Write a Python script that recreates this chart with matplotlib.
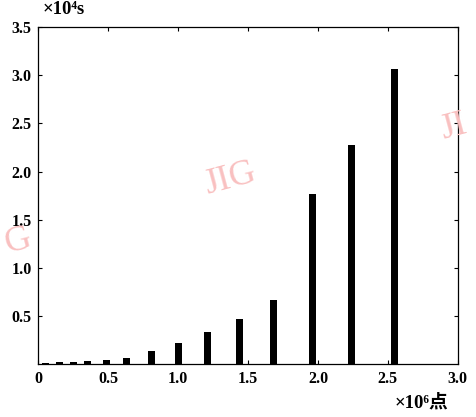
import matplotlib
matplotlib.use("Agg")
import matplotlib.pyplot as plt

# données (x en 10^6 points, y en 10^4 s)
points = [0.05, 0.15, 0.25, 0.35, 0.49, 0.63, 0.81, 1.0, 1.21, 1.44, 1.68, 1.96, 2.24, 2.55]
temps = [0.01, 0.02, 0.025, 0.035, 0.045, 0.06, 0.135, 0.22, 0.33, 0.47, 0.67, 1.765, 2.28, 3.06]
xticks = [0, 0.5, 1.0, 1.5, 2.0, 2.5, 3.0]
xlabels = ["0", "0.5", "1.0", "1.5", "2.0", "2.5", "3.0"]
yticks = [0.5, 1.0, 1.5, 2.0, 2.5, 3.0, 3.5]
ylabels = ["0.5", "1.0", "1.5", "2.0", "2.5", "3.0", "3.5"]

fonts = ["Liberation Serif", "Noto Sans CJK SC"]
plt.rcParams["font.family"] = fonts

fig = plt.figure(figsize=(4.77, 4.17), dpi=100)
ax = fig.add_axes([0.0807, 0.127, 0.879, 0.808])

ax.bar(points, temps, width=0.05, color="black", align="center")

ax.set_xlim(0, 3.0)
ax.set_ylim(0, 3.5)
ax.set_xticks(xticks)
ax.set_xticklabels(xlabels, fontweight="bold")
ax.set_yticks(yticks)
ax.set_yticklabels(ylabels, fontweight="bold")
ax.tick_params(direction="in", length=3, width=0.8, top=True, right=True,
               labelsize=11.5, pad=5)
for s in ax.spines.values():
    s.set_linewidth(0.9)

# unités
fig.text(0.09, 0.978, "×10⁴s", fontsize=13.5, family=fonts, fontweight="bold",
         va="center", ha="left")
fig.text(0.828, 0.034, "×10⁶点", fontsize=13.5, family=fonts, fontweight="bold",
         va="center", ha="left")

# filigranes
wm = "#f9c0c0"
fig.text(0.482, 0.57, "JIG", fontsize=26, color=wm, rotation=15, ha="center", va="center",
         family="Liberation Serif")
fig.text(0.915, 0.695, "JI", fontsize=26, color=wm, rotation=15, ha="left", va="center",
         family="Liberation Serif")
fig.text(0.003, 0.42, "G", fontsize=26, color=wm, rotation=15, ha="left", va="center",
         family="Liberation Serif")

fig.savefig("out.png", dpi=100)
